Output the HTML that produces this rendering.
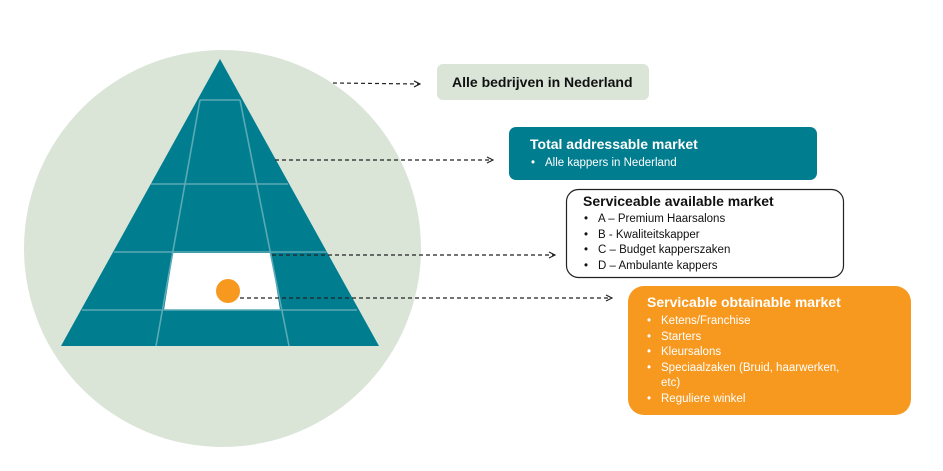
<!DOCTYPE html>
<html><head><meta charset="utf-8"><style>
html,body{margin:0;padding:0;background:#fff;width:943px;height:471px;overflow:hidden}
text{font-family:"Liberation Sans",sans-serif}
</style></head><body>
<svg width="943" height="471" viewBox="0 0 943 471" xmlns="http://www.w3.org/2000/svg">
<defs><marker id="a" markerWidth="8" markerHeight="8" refX="7" refY="4" orient="auto" markerUnits="userSpaceOnUse"><path d="M1,1 L7,4 L1,7" fill="none" stroke="#222" stroke-width="1.2"/></marker></defs>
<circle cx="222.5" cy="248.5" r="198.5" fill="#dae5d8"/>
<polygon points="220,59 61,346 379,346" fill="#007d8f"/>
<polygon points="173,253 271,253 280,310 164,310" fill="#fff"/>
<g stroke="#5aaab6" stroke-width="1.6" fill="none">
<line x1="200" y1="100" x2="240" y2="100"/>
<line x1="151" y1="184" x2="288" y2="184"/>
<line x1="114" y1="252" x2="327" y2="252"/>
<line x1="82" y1="310" x2="357" y2="310"/>
<line x1="200" y1="100" x2="156" y2="346"/>
<line x1="240" y1="100" x2="289" y2="346"/>
</g>
<circle cx="228" cy="291" r="12" fill="#f7991f"/>
<g stroke="#222" stroke-width="1.2" stroke-dasharray="4,3" fill="none" marker-end="url(#a)">
<line x1="333" y1="83" x2="420" y2="84"/>
<line x1="275" y1="160" x2="493" y2="160"/>
<line x1="272" y1="255" x2="555" y2="255"/>
<line x1="240" y1="298" x2="612" y2="298"/>
</g>
<rect x="437" y="64" width="212" height="36" rx="6" fill="#dae5d8"/>
<text x="452" y="87" font-size="14" font-weight="bold" fill="#111">Alle bedrijven in Nederland</text>
<rect x="509" y="127" width="308" height="53" rx="7" fill="#007d8f"/>
<text x="530" y="149" font-size="14" font-weight="bold" fill="#fff">Total addressable market</text>
<g font-size="11.5" fill="#fff"><text x="531" y="166">•</text><text x="545" y="166">Alle kappers in Nederland</text></g>
<rect x="566.5" y="189.5" width="277" height="88" rx="12" fill="#fff" stroke="#222" stroke-width="1.2"/>
<text x="583" y="206" font-size="14" font-weight="bold" fill="#111">Serviceable available market</text>
<g font-size="11.5" fill="#111">
<text x="584" y="222">•</text><text x="598" y="222">A – Premium Haarsalons</text>
<text x="584" y="238">•</text><text x="598" y="238">B - Kwaliteitskapper</text>
<text x="584" y="253">•</text><text x="598" y="253">C – Budget kapperszaken</text>
<text x="584" y="269">•</text><text x="598" y="269">D – Ambulante kappers</text>
</g>
<rect x="628" y="286" width="283" height="129" rx="16" fill="#f7991f"/>
<text x="647" y="307" font-size="14" font-weight="bold" fill="#fff">Servicable obtainable market</text>
<g font-size="11.5" fill="#fff">
<text x="647" y="324">•</text><text x="661" y="324">Ketens/Franchise</text>
<text x="647" y="340">•</text><text x="661" y="340">Starters</text>
<text x="647" y="355">•</text><text x="661" y="355">Kleursalons</text>
<text x="647" y="371">•</text><text x="661" y="371">Speciaalzaken (Bruid, haarwerken,</text>
<text x="661" y="386">etc)</text>
<text x="647" y="402">•</text><text x="661" y="402">Reguliere winkel</text>
</g>
</svg>
</body></html>
